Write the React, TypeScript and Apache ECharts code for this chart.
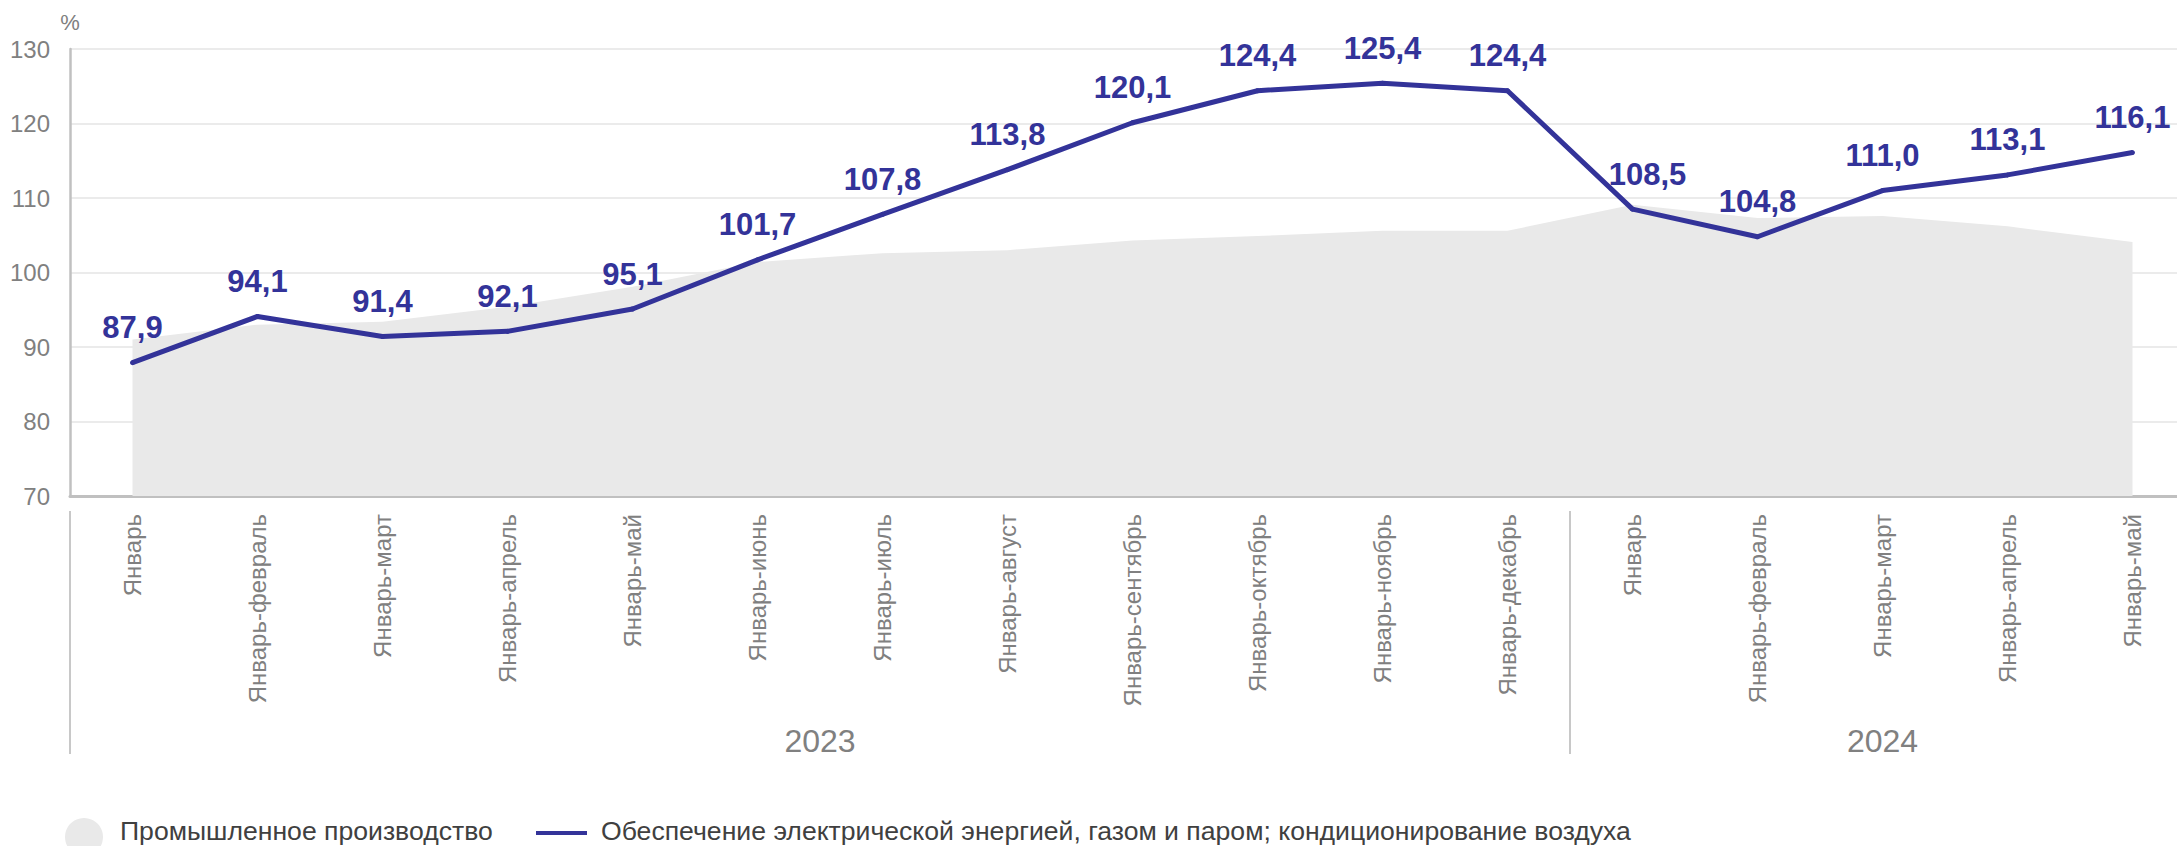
import React, { useEffect, useRef } from "react";
import * as echarts from "echarts";

const categories = [
  "Январь", "Январь-февраль", "Январь-март", "Январь-апрель", "Январь-май", "Январь-июнь",
  "Январь-июль", "Январь-август", "Январь-сентябрь", "Январь-октябрь", "Январь-ноябрь", "Январь-декабрь",
  "Январь", "Январь-февраль", "Январь-март", "Январь-апрель", "Январь-май",
];
const years = ["2023", "2024"];
const yearFirstIndex = [0, 12];
const yearLastIndex = [11, 16];
const industryName = "Промышленное производство";
const energyName = "Обеспечение электрической энергией, газом и паром; кондиционирование воздуха";
const industryValues = [91.0, 93.0, 93.4, 95.4, 98.1, 101.4, 102.6, 103.0, 104.3, 104.9, 105.6, 105.6, 109.1, 107.3, 107.6, 106.2, 104.1];
const energyValues = [87.9, 94.1, 91.4, 92.1, 95.1, 101.7, 107.8, 113.8, 120.1, 124.4, 125.4, 124.4, 108.5, 104.8, 111.0, 113.1, 116.1];
const yMin = 70;
const yMax = 130;
const yStep = 10;
const yUnit = "%";

const FONT = "'Liberation Sans', Arial, sans-serif";
const LINE_COLOR = "#333399";
const AREA_COLOR = "#e9e9e9";
const GRAY_TEXT = "#808080";
const LEGEND_TEXT = "#404040";
const labelShift: Record<number, number[]> = { 12: [15, 0] };

// The chart canvas is slightly wider than the visible page: the last category's
// half-slot is cropped at the right edge, as in the reference.
const VIEW_W = 2177;
const VIEW_H = 846;
const CHART_W = 2200;

export default function App() {
  const ref = useRef<HTMLDivElement>(null);
  useEffect(() => {
    if (!ref.current) return;
    const chart = echarts.init(ref.current, undefined, { renderer: "svg" });
    const fmt = (v: number) => v.toFixed(1).replace(".", ",");
    chart.setOption({
      animation: false,
      textStyle: { fontFamily: FONT },
      grid: { left: 70, top: 49, bottom: 350, width: 2125, containLabel: false },
      xAxis: {
        type: "category",
        data: categories,
        boundaryGap: true,
        axisLine: { show: true, lineStyle: { color: "#c0c0c0", width: 3 } },
        axisTick: { show: false },
        axisLabel: {
          interval: 0,
          rotate: 90,
          margin: 18,
          fontSize: 24,
          color: GRAY_TEXT,
          fontFamily: FONT,
        },
        splitLine: { show: false },
      },
      yAxis: {
        type: "value",
        min: yMin,
        max: yMax,
        interval: yStep,
        name: yUnit,
        nameLocation: "end",
        nameGap: 16,
        nameTextStyle: { fontSize: 22, color: GRAY_TEXT, fontFamily: FONT },
        axisLine: { show: true, lineStyle: { color: "#c0c0c0", width: 2.5 } },
        axisTick: { show: false },
        axisLabel: { fontSize: 24, color: GRAY_TEXT, margin: 20, fontFamily: FONT },
        splitLine: { show: true, lineStyle: { color: "#ebebeb", width: 2 } },
      },
      series: [
        {
          name: industryName,
          type: "line",
          data: industryValues,
          showSymbol: false,
          symbol: "none",
          itemStyle: { color: AREA_COLOR },
          lineStyle: { width: 0, color: AREA_COLOR },
          areaStyle: { color: AREA_COLOR, opacity: 1, origin: "start" },
          z: 1,
        },
        {
          name: energyName,
          type: "line",
          data: energyValues.map((v, i) =>
            labelShift[i] ? { value: v, label: { offset: labelShift[i] } } : v
          ),
          symbol: "circle",
          symbolSize: 5,
          showSymbol: true,
          itemStyle: { color: LINE_COLOR },
          lineStyle: { width: 5, color: LINE_COLOR },
          label: {
            show: true,
            position: "top",
            distance: 17,
            fontSize: 31,
            fontWeight: "bold",
            color: LINE_COLOR,
            fontFamily: FONT,
            formatter: (p: any) => fmt(p.value as number),
          },
          z: 3,
        },
      ],
    });

    // Year group labels and separators, positioned from the category axis.
    const px = (i: number) => (chart.convertToPixel({ xAxisIndex: 0 }, i) as number);
    const step = px(1) - px(0);
    const graphics: any[] = [];
    const sepTop = 511;
    const sepBottom = 754;
    const boundaries = [px(0) - step / 2];
    for (let k = 1; k < years.length; k++) {
      boundaries.push((px(yearLastIndex[k - 1]) + px(yearFirstIndex[k])) / 2);
    }
    boundaries.forEach((bx) => {
      graphics.push({
        type: "line",
        shape: { x1: bx, y1: sepTop, x2: bx, y2: sepBottom },
        style: { stroke: "#c8c8c8", lineWidth: 2 },
        silent: true,
      });
    });
    years.forEach((y, k) => {
      const cx = (px(yearFirstIndex[k]) + px(yearLastIndex[k])) / 2;
      graphics.push({
        type: "text",
        x: cx,
        y: 741,
        style: {
          text: y,
          fontSize: 32,
          fill: GRAY_TEXT,
          fontFamily: FONT,
          align: "center",
          verticalAlign: "middle",
        },
        silent: true,
      });
    });

    // Legend
    const legendY = 831;
    const legendFont = 26.6;
    graphics.push({
      type: "circle",
      shape: { cx: 84, cy: 837, r: 19 },
      style: { fill: AREA_COLOR },
      silent: true,
    });
    graphics.push({
      type: "text",
      x: 120,
      y: legendY,
      style: {
        text: industryName,
        fontSize: legendFont,
        fill: LEGEND_TEXT,
        fontFamily: FONT,
        align: "left",
        verticalAlign: "middle",
      },
      silent: true,
    });
    graphics.push({
      type: "rect",
      shape: { x: 536, y: 831, width: 51, height: 4 },
      style: { fill: LINE_COLOR },
      silent: true,
    });
    graphics.push({
      type: "text",
      x: 601,
      y: legendY,
      style: {
        text: energyName,
        fontSize: legendFont,
        fill: LEGEND_TEXT,
        fontFamily: FONT,
        align: "left",
        verticalAlign: "middle",
      },
      silent: true,
    });

    chart.setOption({ graphic: graphics });

    return () => chart.dispose();
  }, []);
  return (
    <div
      style={{
        position: "absolute",
        left: 0,
        top: 0,
        width: VIEW_W,
        height: VIEW_H,
        overflow: "hidden",
        background: "#fff",
      }}
    >
      <div ref={ref} style={{ width: CHART_W, height: VIEW_H }} />
    </div>
  );
}
